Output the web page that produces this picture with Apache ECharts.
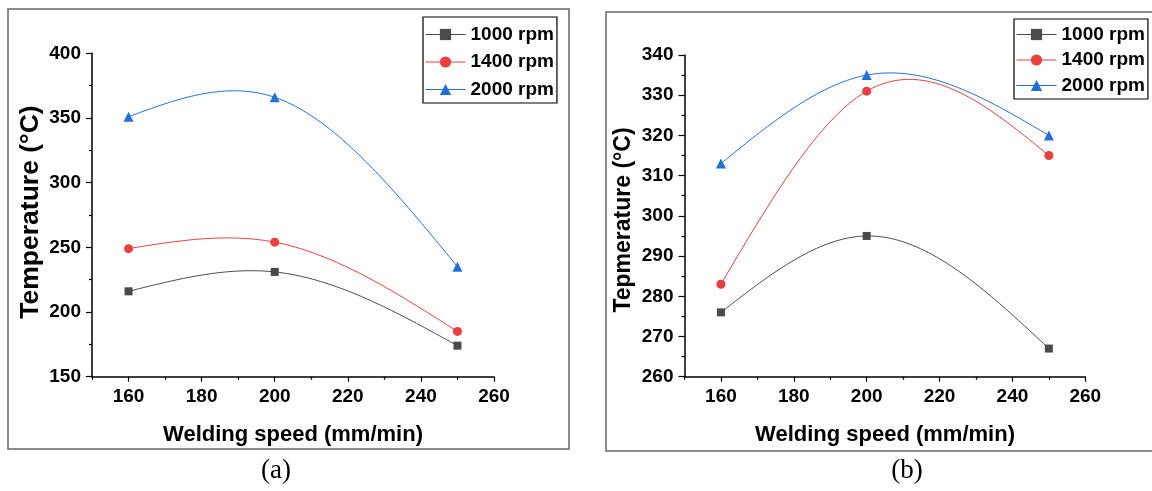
<!DOCTYPE html>
<html>
<head>
<meta charset="utf-8">
<title>Temperature vs welding speed</title>
<script src="https://cdn.jsdelivr.net/npm/echarts@6/dist/echarts.min.js"></script>
<style>
html,body{margin:0;padding:0;background:#fff;}
#main{width:1152px;height:491px;}
</style>
</head>
<body>
<div id="main"></div>
<script>
// welding speed (mm/min)
var speeds=[160,200,250];
var rpmNames=['1000 rpm','1400 rpm','2000 rpm'];
// (a) Temperature
var tempA1000=[216,231,174];
var tempA1400=[249,254,185];
var tempA2000=[351,366,235];
// (b) Tepmerature
var tempB1000=[276,295,267];
var tempB1400=[283,331,315];
var tempB2000=[313,335,320];

var xMajorTicks=[160,180,200,220,240,260];
var xMinorTicks=[150,170,190,210,230,250];

var colors=['#4a4a4a','#f03c3c','#1e6fe0'];
var symbols=['rect','circle','triangle'];
var symbolSizes=[8,9,10];
var font='"Liberation Sans", Arial, sans-serif';

// natural cubic spline, like origin's spline connect
function natSpline(xs,ys){
	var n=xs.length;
	var h=[],M=[];
	for(var i=0;i<n-1;i++) h.push(xs[i+1]-xs[i]);
	var a=[],b=[],c=[],d=[];
	for(var i=1;i<n-1;i++){
		a.push(h[i-1]);
		b.push(2*(h[i-1]+h[i]));
		c.push(h[i]);
		d.push(6*((ys[i+1]-ys[i])/h[i]-(ys[i]-ys[i-1])/h[i-1]));
	}
	var m=b.length;
	for(var i=1;i<m;i++){
		var w=a[i]/b[i-1];
		b[i]-=w*c[i-1];
		d[i]-=w*d[i-1];
	}
	var inner=new Array(m);
	for(var i=m-1;i>=0;i--){
		inner[i]=(d[i]-(i<m-1?c[i]*inner[i+1]:0))/b[i];
	}
	M=[0].concat(inner).concat([0]);
	return function(x){
		var k=0;
		while(k<n-2 && x>xs[k+1]) k++;
		var hk=h[k],A=xs[k+1]-x,B=x-xs[k];
		return M[k]*A*A*A/(6*hk)+M[k+1]*B*B*B/(6*hk)
			+(ys[k]/hk-M[k]*hk/6)*A+(ys[k+1]/hk-M[k+1]*hk/6)*B;
	}
}

function curveSeries(ys,color,xi,yi){
	var f=natSpline(speeds,ys);
	return {
		type:'custom',
		name:'curve',
		xAxisIndex:xi,
		yAxisIndex:yi,
		silent:true,
		z:1,
		data:speeds.map(function(x,i){return [x,ys[i]];}),
		renderItem:function(params,api){
			if(params.dataIndex!==0) return;
			var pts=[];
			var x0=speeds[0],x1=speeds[speeds.length-1];
			for(var k=0;k<=120;k++){
				var x=x0+(x1-x0)*k/120;
				pts.push(api.coord([x,f(x)]));
			}
			return {
				type:'polyline',
				shape:{points:pts},
				style:{stroke:color,lineWidth:1,fill:null}
			};
		}
	}
}

function markSeries(name,ys,idx,xi,yi){
	return {
		type:'line',
		name:name,
		xAxisIndex:xi,
		yAxisIndex:yi,
		data:speeds.map(function(x,i){return [x,ys[i]];}),
		symbol:symbols[idx],
		symbolSize:symbolSizes[idx],
		color:colors[idx],
		itemStyle:{color:colors[idx]},
		lineStyle:{color:colors[idx],width:1,opacity:0},
		z:3
	}
}

function xAxes(gi){
	return [{
		type:'value',gridIndex:gi,min:150,max:260,
		axisLine:{lineStyle:{color:'#000',width:1.5}},
		axisTick:{show:true,length:5,customValues:xMajorTicks,lineStyle:{color:'#000',width:1.2}},
		axisLabel:{customValues:xMajorTicks,margin:11,color:'#000',fontWeight:'bold',fontSize:19,fontFamily:font},
		splitLine:{show:false}
	},{
		type:'value',gridIndex:gi,min:150,max:260,position:'bottom',
		axisLine:{show:false},
		axisTick:{show:true,length:3,customValues:xMinorTicks,lineStyle:{color:'#000',width:1.2}},
		axisLabel:{show:false},
		splitLine:{show:false}
	}]
}

function yAxis(gi,min,max,step){
	return {
		type:'value',gridIndex:gi,min:min,max:max,interval:step,
		axisLine:{show:true,lineStyle:{color:'#000',width:1.5}},
		axisTick:{show:true,length:6,lineStyle:{color:'#000',width:1.2}},
		minorTick:{show:true,splitNumber:2,length:3,lineStyle:{color:'#000',width:1.2}},
		axisLabel:{margin:11,color:'#000',fontWeight:'bold',fontSize:19,fontFamily:font},
		splitLine:{show:false}
	}
}

function legendBox(left,top,gap,pad){
	return {
		data:rpmNames,
		orient:'vertical',
		left:left,
		top:top,
		itemWidth:40,
		itemHeight:14,
		itemGap:gap,
		padding:pad,
		borderColor:'#000',
		borderWidth:1.2,
		lineStyle:{opacity:1,width:1},
		textStyle:{color:'#000',fontWeight:'bold',fontSize:19,fontFamily:font,lineHeight:18}
	}
}

var chart=echarts.init(document.getElementById('main'));
var option={
	animation:false,
	backgroundColor:'#fff',
	grid:[
		{left:92,top:53.3,width:402,height:323.4,outerBoundsMode:'none'},
		{left:684.5,top:55,width:400.8,height:321.7,outerBoundsMode:'none'}
	],
	xAxis:xAxes(0).concat(xAxes(1)),
	yAxis:[yAxis(0,150,400,50),yAxis(1,260,340,10)],
	legend:[
		legendBox(423,17,8.5,[8,3,4,2]),
		legendBox(1014,19,6.5,[6,3,4,2])
	],
	series:[
		curveSeries(tempA1000,colors[0],0,0),
		curveSeries(tempA1400,colors[1],0,0),
		curveSeries(tempA2000,colors[2],0,0),
		curveSeries(tempB1000,colors[0],2,1),
		curveSeries(tempB1400,colors[1],2,1),
		curveSeries(tempB2000,colors[2],2,1),
		markSeries(rpmNames[0],tempA1000,0,0,0),
		markSeries(rpmNames[1],tempA1400,1,0,0),
		markSeries(rpmNames[2],tempA2000,2,0,0),
		markSeries(rpmNames[0],tempB1000,0,2,1),
		markSeries(rpmNames[1],tempB1400,1,2,1),
		markSeries(rpmNames[2],tempB2000,2,2,1)
	],
	graphic:[
		{type:'rect',shape:{x:8,y:9,width:561,height:440},style:{fill:null,stroke:'#666',lineWidth:1.5},silent:true},
		{type:'rect',shape:{x:606,y:12,width:560,height:439},style:{fill:null,stroke:'#666',lineWidth:1.5},silent:true},
		{type:'text',x:31,y:212,rotation:Math.PI/2,style:{text:'Temperature (°C)',fontSize:26.5,fontWeight:'bold',fontFamily:font,fill:'#000',align:'center',verticalAlign:'middle'}},
		{type:'text',x:624,y:220,rotation:Math.PI/2,style:{text:'Tepmerature (°C)',fontSize:23,fontWeight:'bold',fontFamily:font,fill:'#000',align:'center',verticalAlign:'middle'}},
		{type:'text',x:293,y:435,style:{text:'Welding speed (mm/min)',fontSize:22,fontWeight:'bold',fontFamily:font,fill:'#000',align:'center',verticalAlign:'middle'}},
		{type:'text',x:885,y:435,style:{text:'Welding speed (mm/min)',fontSize:22,fontWeight:'bold',fontFamily:font,fill:'#000',align:'center',verticalAlign:'middle'}},
		{type:'text',x:276,y:471,style:{text:'(a)',fontSize:27,fontFamily:'"Liberation Serif", "Times New Roman", serif',fill:'#000',align:'center',verticalAlign:'middle'}},
		{type:'text',x:907,y:471,style:{text:'(b)',fontSize:27,fontFamily:'"Liberation Serif", "Times New Roman", serif',fill:'#000',align:'center',verticalAlign:'middle'}}
	]
};
chart.setOption(option);
</script>
</body>
</html>
